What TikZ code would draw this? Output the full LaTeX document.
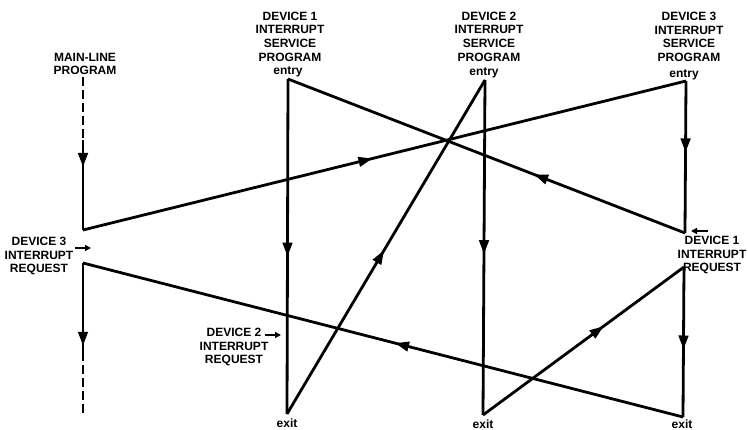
\documentclass[tikz,border=0pt]{standalone}
\usepackage{fontspec}
\setmainfont{Liberation Sans}
\usetikzlibrary{arrows.meta,decorations.markings}
\tikzset{
  lbl/.style={inner sep=0pt, align=center, font=\fontsize{12}{13.6}\selectfont\bfseries},
  flow/.style={line width=2.8pt, line cap=butt},
  dashflow/.style={flow, dash pattern=on 9pt off 4pt},
  midarrow/.style={postaction={decorate}, decoration={markings,
      mark=at position #1 with {\arrow{Triangle[length=14pt,width=9.5pt]}}}},
  small/.style={line width=1.8pt, -{Triangle[length=6pt,width=6pt]}}
}
\begin{document}
\begin{tikzpicture}[x=1pt,y=-1pt]
\useasboundingbox (0,0) rectangle (748,430);
% labels
\node[lbl] (mlp) at (85,64) {MAIN-LINE\\PROGRAM};
\node[lbl] (d1t) at (290,36.5) {DEVICE 1\\INTERRUPT\\SERVICE\\PROGRAM};
\node[lbl] (d2t) at (489,36.5) {DEVICE 2\\INTERRUPT\\SERVICE\\PROGRAM};
\node[lbl] (d3t) at (689,37) {DEVICE 3\\INTERRUPT\\SERVICE\\PROGRAM};
\node[lbl] (en1) at (288,72) {entry};
\node[lbl] (en2) at (484,73) {entry};
\node[lbl] (en3) at (684,75) {entry};
\node[lbl] (ex1) at (287,423) {exit};
\node[lbl] (ex2) at (483,424) {exit};
\node[lbl] (ex3) at (682,424) {exit};
\node[lbl] (r3) at (39,256) {DEVICE 3\\INTERRUPT\\REQUEST};
\node[lbl] (r2) at (234,347) {DEVICE 2\\INTERRUPT\\REQUEST};
\node[lbl] (r1) at (712,255) {DEVICE 1\\INTERRUPT\\REQUEST};
% points
\coordinate (m0) at (83,77);
\coordinate (m1) at (83,140);
\coordinate (m2) at (83,230);
\coordinate (m3) at (83,263);
\coordinate (m4) at (83,352);
\coordinate (m5) at (83,416);
\coordinate (d1e) at (288,79);
\coordinate (d1x) at (287,414);
\coordinate (d2e) at (485,80);
\coordinate (d2x) at (483,415);
\coordinate (d3e) at (686,81);
\coordinate (d3r) at (685,233);
\coordinate (d1r) at (684,267);
\coordinate (d3x) at (683,417);
\coordinate (s3a) at (75,248);
\coordinate (s3b) at (91,248);
\coordinate (s1a) at (708,231);
\coordinate (s1b) at (691,231);
\coordinate (s2a) at (265,335);
\coordinate (s2b) at (281,335);
% connectors
\draw[dashflow] (m0) -- (m1);
\draw[flow, midarrow=0.3] (m1) -- (m2);
\draw[flow, midarrow=0.48] (m2) -- (d3e);
\draw[flow, midarrow=0.47] (d3e) -- (d3r);
\draw[flow, midarrow=0.38] (d3r) -- (d1e);
\draw[flow, midarrow=0.53] (d1e) -- (d1x);
\draw[flow, midarrow=0.49] (d1x) -- (d2e);
\draw[flow, midarrow=0.52] (d2e) -- (d2x);
\draw[flow, midarrow=0.6] (d2x) -- (d1r);
\draw[flow, midarrow=0.55] (d1r) -- (d3x);
\draw[flow, midarrow=0.48] (d3x) -- (m3);
\draw[flow, midarrow=0.93] (m3) -- (m4);
\draw[dashflow] (m4) -- (m5);
\draw[small] (s3a) -- (s3b);
\draw[small] (s1a) -- (s1b);
\draw[small] (s2a) -- (s2b);
\end{tikzpicture}
\end{document}
